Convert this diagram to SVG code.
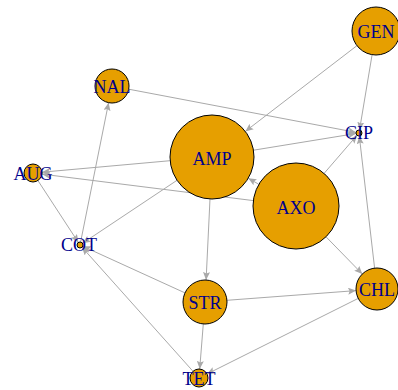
<svg xmlns="http://www.w3.org/2000/svg" width="398" height="390" viewBox="0 0 398 390">
  <style>
    .edge { stroke: #a9a9a9; stroke-width: 1; fill: none; }
    .node circle { fill: #e69f00; stroke: #000; stroke-width: 1; }
    .node text { font-family: "Liberation Serif", "Times New Roman", serif; font-size: 18px; fill: #00008b; text-anchor: middle; dominant-baseline: central; }
  </style>
  <defs>
    <marker id="arrow" markerUnits="userSpaceOnUse" markerWidth="9" markerHeight="7" refX="8" refY="3.5" orient="auto">
      <path d="M0,0 L8,3.5 L0,7 L1.5,3.5 z" fill="#a9a9a9"/>
    </marker>
  </defs>
  <rect width="398" height="390" fill="#fff"/>

  <g id="edges">
    <line class="edge" x1="357.0" y1="45.6" x2="245.3" y2="131.4" marker-end="url(#arrow)"/>
    <line class="edge" x1="372.1" y1="54.7" x2="359.5" y2="130.0" marker-end="url(#arrow)"/>
    <line class="edge" x1="374.6" y1="268.1" x2="359.3" y2="136.0" marker-end="url(#arrow)"/>
    <line class="edge" x1="128.7" y1="89.2" x2="356.1" y2="132.4" marker-end="url(#arrow)"/>
    <line class="edge" x1="253.5" y1="150.2" x2="356.0" y2="133.5" marker-end="url(#arrow)"/>
    <line class="edge" x1="324.1" y1="173.4" x2="357.0" y2="135.3" marker-end="url(#arrow)"/>
    <line class="edge" x1="258.8" y1="184.3" x2="248.3" y2="178.2" marker-end="url(#arrow)"/>
    <line class="edge" x1="170.2" y1="160.7" x2="42.0" y2="172.2" marker-end="url(#arrow)"/>
    <line class="edge" x1="253.3" y1="200.6" x2="41.9" y2="174.1" marker-end="url(#arrow)"/>
    <line class="edge" x1="210.0" y1="198.9" x2="206.1" y2="280.0" marker-end="url(#arrow)"/>
    <line class="edge" x1="326.0" y1="236.8" x2="362.3" y2="274.0" marker-end="url(#arrow)"/>
    <line class="edge" x1="226.9" y1="300.3" x2="356.1" y2="290.6" marker-end="url(#arrow)"/>
    <line class="edge" x1="203.3" y1="323.9" x2="199.7" y2="369.0" marker-end="url(#arrow)"/>
    <line class="edge" x1="358.2" y1="298.4" x2="207.0" y2="374.0" marker-end="url(#arrow)"/>
    <line class="edge" x1="80.6" y1="242.1" x2="108.6" y2="102.7" marker-end="url(#arrow)"/>
    <line class="edge" x1="37.9" y1="180.5" x2="78.4" y2="242.5" marker-end="url(#arrow)"/>
    <line class="edge" x1="177.0" y1="180.3" x2="82.5" y2="243.3" marker-end="url(#arrow)"/>
    <line class="edge" x1="185.0" y1="292.9" x2="82.7" y2="246.2" marker-end="url(#arrow)"/>
    <line class="edge" x1="193.0" y1="371.3" x2="82.0" y2="247.2" marker-end="url(#arrow)"/>
  </g>

  <g id="node-GEN" class="node"><circle cx="376" cy="31" r="24"/><text x="376" y="32">GEN</text></g>
  <g id="node-NAL" class="node"><circle cx="112" cy="86" r="17"/><text x="112" y="87">NAL</text></g>
  <g id="node-AUG" class="node"><circle cx="33" cy="173" r="9"/><text x="33" y="174">AUG</text></g>
  <g id="node-COT" class="node"><circle cx="80" cy="245" r="3"/><text x="79" y="245">COT</text></g>
  <g id="node-CIP" class="node"><circle cx="359" cy="133" r="3"/><text x="359" y="133">CIP</text></g>
  <g id="node-AMP" class="node"><circle cx="212" cy="157" r="42"/><text x="212" y="159">AMP</text></g>
  <g id="node-AXO" class="node"><circle cx="296" cy="206" r="43"/><text x="296" y="208">AXO</text></g>
  <g id="node-CHL" class="node"><circle cx="377" cy="289" r="21"/><text x="377" y="290">CHL</text></g>
  <g id="node-STR" class="node"><circle cx="205" cy="302" r="22"/><text x="205" y="303">STR</text></g>
  <g id="node-TET" class="node"><circle cx="199" cy="378" r="9"/><text x="199" y="379">TET</text></g>
</svg>
